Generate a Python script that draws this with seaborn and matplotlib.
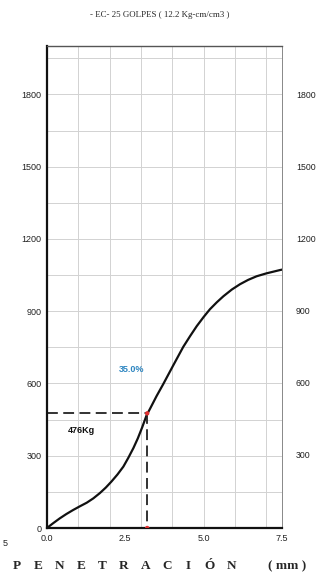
import numpy as np
import pandas as pd
import matplotlib
matplotlib.use('Agg')
import matplotlib.pyplot as plt
import seaborn as sns
from matplotlib.ticker import MultipleLocator

# penetration (mm) vs load (Kg)
penetracion = [0.00, 0.20, 0.41, 0.62, 0.84, 1.05, 1.27, 1.48, 1.69, 1.88, 2.06, 2.25, 2.44, 2.60,
               2.76, 2.90, 3.04, 3.18, 3.29, 3.50, 3.71, 4.03, 4.35, 4.57, 4.78, 5.00, 5.20, 5.42,
               5.63, 5.90, 6.16, 6.42, 6.69, 7.00, 7.44, 7.60]
carga = [0, 20, 40, 58, 75, 90, 105, 123, 145, 168, 193, 222, 255, 292,
         332, 372, 418, 468, 495, 548, 597, 675, 752, 797, 838, 876, 908, 937,
         962, 990, 1012, 1030, 1045, 1057, 1071, 1075]

punto_x = [3.20, 3.20]
punto_y = [476, 0]
x_ticks = [0.0, 2.5, 5.0, 7.5]
y_ticks = [0, 300, 600, 900, 1200, 1500, 1800]
titulo = '- EC- 25 GOLPES ( 12.2 Kg-cm/cm3 )'
etiqueta_pct = '35.0%'
etiqueta_kg = '476Kg'
eje_x = 'PENETRACIÓN'
unidad = '( mm )'

df = pd.DataFrame({'pen': penetracion, 'carga': carga})

sns.set_style('white')
plt.rcParams['font.family'] = ['Liberation Sans', 'DejaVu Sans']

fig = plt.figure(figsize=(3.19, 5.85), dpi=100)
ax = fig.add_axes([0.147, 0.0974, 0.737, 0.8236])

# grid every 1 mm and every 150 Kg
for gx in np.arange(1, 8, 1):
    ax.axvline(gx, color='#d2d2d2', lw=0.7, zorder=0)
for gy in np.arange(150, 2000, 150):
    ax.axhline(gy, color='#d2d2d2', lw=0.7, zorder=0)

sns.lineplot(data=df, x='pen', y='carga', ax=ax, color='#111111', lw=1.6, sort=False)

ax.plot([0, punto_x[0]], [punto_y[0], punto_y[0]], color='#222222', lw=1.3, ls=(0, (6, 3)))
ax.plot([punto_x[0], punto_x[1]], [punto_y[0], punto_y[1]], color='#222222', lw=1.3, ls=(0, (6, 3)))
sns.scatterplot(x=punto_x, y=punto_y, ax=ax, color='#e03030', s=10, edgecolor='none', zorder=5)

ax.text(2.69, 658, etiqueta_pct, color='#2e86c1', fontsize=6.5, fontweight='bold', ha='center', va='center')
ax.text(1.10, 403, etiqueta_kg, color='#111111', fontsize=6.5, fontweight='bold', ha='center', va='center')

ax.set_xlim(0, 7.5)
ax.set_ylim(0, 2000)
ax.set_xticks(x_ticks)
ax.set_xticklabels(['0.0', '2.5', '5.0', '7.5'])
ax.set_yticks(y_ticks)
ax.yaxis.set_minor_locator(MultipleLocator(50))
ax.xaxis.set_minor_locator(MultipleLocator(0.25))
ax.tick_params(axis='both', which='major', labelsize=6.5, length=4, width=1, direction='inout', pad=2, colors='#222222')
ax.tick_params(axis='both', which='minor', length=3, width=0.6, direction='inout', color='#444444')
ax.set_xlabel('')
ax.set_ylabel('')

for s in ['left', 'bottom']:
    ax.spines[s].set_color('#111111')
    ax.spines[s].set_linewidth(1.6)
ax.spines['top'].set_color('#555555')
ax.spines['top'].set_linewidth(1.0)
ax.spines['right'].set_color('#888888')
ax.spines['right'].set_linewidth(0.7)
ax.spines['right'].set_linestyle((0, (2, 1)))

fig.text(0.5, 0.974, titulo, ha='center', va='center', fontsize=6.4, family='Liberation Serif')

# spaced-out axis title as in the scanned sheet
for i, letra in enumerate(eje_x):
    fig.text((17 + i * 21.4) / 319, 1 - 566 / 585, letra, ha='center', va='center',
             fontsize=9.5, fontweight='bold', family='Liberation Serif')
fig.text(268 / 319, 1 - 566 / 585, unidad, ha='left', va='center', fontsize=9.5,
         fontweight='bold', family='Liberation Serif')

# fragments of the neighbouring charts at the edges of the scan
for v in y_ticks[1:]:
    fig.text(296 / 319, 1 - (528 - v * 0.2404) / 585, str(v), ha='left', va='center', fontsize=6.3, color='#222222')
fig.text(5 / 319, 1 - 544 / 585, '5', ha='center', va='center', fontsize=6.5, color='#222222')

fig.savefig('out.png', dpi=100)
